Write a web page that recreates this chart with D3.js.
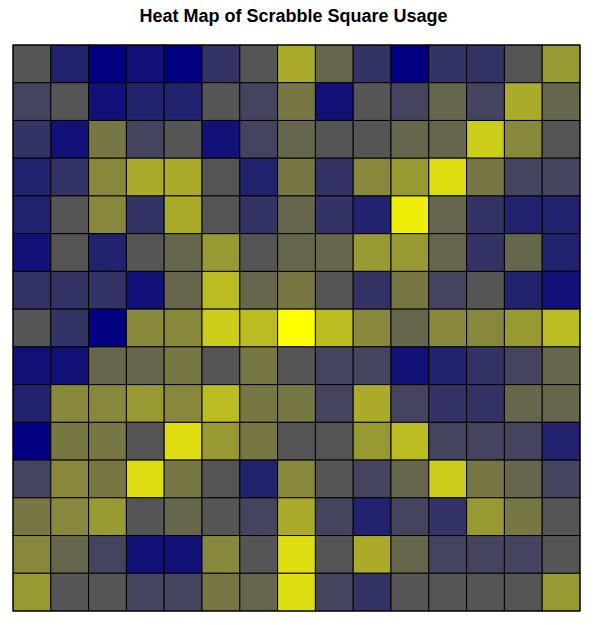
<!DOCTYPE html>
<html>
<head>
<meta charset="utf-8">
<script src="https://cdn.jsdelivr.net/npm/d3@7"></script>
<style>
body { margin: 0; background: #fff; }
</style>
</head>
<body>
<div id="chart"></div>
<script>
// usage level per board square, rows top to bottom (0 = lowest, 15 = highest)
var rows = d3.range(1, 16);
var cols = d3.range(1, 16);
var usage = [
    [5, 2, 0, 1, 0, 3, 5, 10, 6, 3, 0, 3, 3, 5, 9],
    [4, 5, 1, 2, 2, 5, 4, 7, 1, 5, 4, 6, 4, 10, 6],
    [3, 1, 7, 4, 5, 1, 4, 6, 5, 5, 6, 6, 12, 8, 5],
    [2, 3, 8, 10, 10, 5, 2, 7, 3, 8, 9, 13, 7, 4, 4],
    [2, 5, 8, 3, 10, 5, 3, 6, 3, 2, 14, 6, 3, 2, 2],
    [1, 5, 2, 5, 6, 9, 5, 6, 6, 9, 9, 6, 3, 6, 2],
    [3, 3, 3, 1, 6, 11, 6, 7, 5, 3, 7, 4, 5, 2, 1],
    [5, 3, 0, 8, 8, 12, 11, 15, 11, 8, 6, 8, 8, 9, 11],
    [1, 1, 6, 6, 7, 5, 7, 5, 4, 4, 1, 2, 3, 4, 6],
    [2, 8, 8, 9, 8, 11, 7, 7, 4, 10, 4, 3, 3, 6, 6],
    [0, 7, 7, 5, 13, 9, 7, 5, 5, 9, 11, 4, 4, 4, 2],
    [4, 8, 7, 13, 7, 5, 2, 8, 5, 4, 6, 12, 7, 6, 4],
    [7, 8, 9, 5, 6, 5, 4, 10, 4, 2, 4, 3, 9, 7, 5],
    [8, 6, 4, 1, 1, 8, 5, 13, 5, 10, 6, 4, 4, 4, 5],
    [9, 5, 5, 4, 4, 7, 6, 13, 4, 3, 5, 5, 5, 5, 9]
];

var width = 595, height = 625;
var margin = {top: 45, right: 15, bottom: 14, left: 13};

var svg = d3.select('#chart').append('svg')
    .attr('width', width)
    .attr('height', height);

svg.append('text')
    .attr('x', width / 2 - 4)
    .attr('y', 22)
    .attr('text-anchor', 'middle')
    .style('font-family', 'Liberation Sans, Arial, sans-serif')
    .style('font-weight', 'bold')
    .style('font-size', '18px')
    .text('Heat Map of Scrabble Square Usage');

var x = d3.scaleBand().domain(cols).range([margin.left, width - margin.right]);
var y = d3.scaleBand().domain(rows).range([margin.top, height - margin.bottom]);
var color = d3.scaleLinear().domain([0, 5, 15]).range(['#000080', '#555555', '#ffff00']);

var cells = [];
usage.forEach(function (r, i) {
    r.forEach(function (v, j) {
        cells.push({row: rows[i], col: cols[j], value: v});
    });
});

svg.append('g').selectAll('rect')
    .data(cells)
    .enter().append('rect')
    .attr('x', function (d) { return x(d.col); })
    .attr('y', function (d) { return y(d.row); })
    .attr('width', x.bandwidth())
    .attr('height', y.bandwidth())
    .attr('fill', function (d) { return color(d.value); })
    .attr('stroke', '#000')
    .attr('stroke-width', 1);

svg.append('rect')
    .attr('x', margin.left)
    .attr('y', margin.top)
    .attr('width', width - margin.left - margin.right)
    .attr('height', height - margin.top - margin.bottom)
    .attr('fill', 'none')
    .attr('stroke', '#000')
    .attr('stroke-width', 1);
</script>
</body>
</html>
